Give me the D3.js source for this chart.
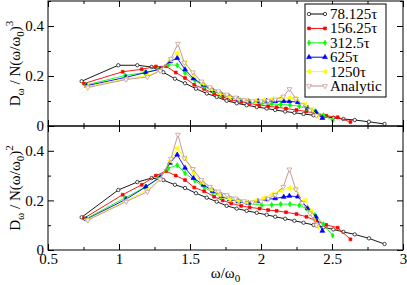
<!DOCTYPE html>
<html>
<head>
<meta charset="utf-8">
<script src="https://cdn.jsdelivr.net/npm/d3@7"></script>
<style>
body { margin: 0; background: #fff; }
svg { display: block; }
svg text { font-family: "Liberation Serif", "Times New Roman", serif; }
</style>
</head>
<body>
<script>
"use strict"

var labels = ["78.125τ", "156.25τ", "312.5τ", "625τ", "1250τ", "Analytic"];
var colors = ["#000000", "#ff0000", "#00ff00", "#0000ff", "#ffff00", "#bc8f8f"];

// omega / omega_0 for each run
var xBlack = [0.737, 0.995, 1.129, 1.23, 1.312, 1.394, 1.465, 1.542, 1.618, 1.688, 1.758, 1.829, 1.899, 1.97, 2.04, 2.10, 2.17, 2.235, 2.30, 2.37, 2.44, 2.51, 2.58, 2.66, 2.76, 2.87];
var xRed = [0.754, 1.026, 1.16, 1.26, 1.331, 1.40, 1.465, 1.53, 1.60, 1.67, 1.73, 1.79, 1.86, 1.92, 1.99, 2.05, 2.11, 2.176, 2.25, 2.32, 2.39, 2.46, 2.54, 2.63];
var xGreen = [0.768, 1.042, 1.183, 1.277, 1.347, 1.41, 1.465, 1.535, 1.60, 1.66, 1.72, 1.79, 1.85, 1.92, 2.005, 2.075, 2.139, 2.204, 2.27, 2.32, 2.38, 2.44, 2.505];
var xBlue = [0.772, 1.05, 1.19, 1.29, 1.359, 1.41, 1.465, 1.524, 1.594, 1.66, 1.72, 1.78, 1.84, 1.91, 1.98, 2.04, 2.10, 2.16, 2.20, 2.26, 2.33, 2.387, 2.432];
var xYellow = [0.775, 1.05, 1.20, 1.29, 1.36, 1.41, 1.465, 1.525, 1.59, 1.65, 1.71, 1.78, 1.84, 1.90, 1.96, 2.02, 2.08, 2.14, 2.20, 2.24, 2.31, 2.357, 2.40];
var xAnalytic = [0.78, 1.05, 1.20, 1.29, 1.366, 1.415, 1.46, 1.52, 1.58, 1.64, 1.70, 1.76, 1.82, 1.88, 1.94, 2.00, 2.05, 2.10, 2.157, 2.20, 2.245, 2.29, 2.345, 2.39];

// top panel: D / N(w/w0)^3
var topBlack = [0.179, 0.243, 0.243, 0.236, 0.215, 0.189, 0.171, 0.149, 0.130, 0.116, 0.101, 0.091, 0.083, 0.076, 0.070, 0.064, 0.058, 0.053, 0.048, 0.043, 0.038, 0.033, 0.028, 0.024, 0.017, 0.008];
var topRed = [0.170, 0.217, 0.227, 0.238, 0.239, 0.214, 0.192, 0.165, 0.148, 0.129, 0.116, 0.105, 0.096, 0.090, 0.084, 0.079, 0.075, 0.070, 0.064, 0.058, 0.049, 0.041, 0.035, 0.016];
var topGreen = [0.164, 0.202, 0.214, 0.227, 0.245, 0.243, 0.212, 0.182, 0.158, 0.140, 0.124, 0.113, 0.105, 0.097, 0.090, 0.088, 0.086, 0.084, 0.079, 0.072, 0.059, 0.043, 0.023];
var topBlue = [0.161, 0.195, 0.214, 0.227, 0.258, 0.272, 0.226, 0.190, 0.165, 0.143, 0.127, 0.115, 0.107, 0.099, 0.099, 0.100, 0.099, 0.099, 0.099, 0.095, 0.072, 0.056, 0.032];
var topYellow = [0.157, 0.189, 0.202, 0.222, 0.265, 0.291, 0.253, 0.203, 0.171, 0.148, 0.130, 0.115, 0.108, 0.102, 0.101, 0.104, 0.108, 0.112, 0.113, 0.110, 0.087, 0.067, 0.039];
var topAnalytic = [0.154, 0.186, 0.196, 0.221, 0.269, 0.329, 0.253, 0.215, 0.178, 0.155, 0.139, 0.126, 0.114, 0.105, 0.099, 0.098, 0.101, 0.106, 0.118, 0.148, 0.109, 0.083, 0.063, 0.042];

// bottom panel: D / N(w/w0)^2
var botBlack = [0.132, 0.242, 0.274, 0.290, 0.282, 0.263, 0.250, 0.229, 0.211, 0.195, 0.178, 0.167, 0.158, 0.150, 0.142, 0.134, 0.126, 0.118, 0.110, 0.101, 0.092, 0.083, 0.073, 0.063, 0.047, 0.024];
var botRed = [0.128, 0.223, 0.263, 0.300, 0.318, 0.300, 0.282, 0.252, 0.237, 0.215, 0.200, 0.188, 0.178, 0.172, 0.167, 0.161, 0.158, 0.152, 0.145, 0.134, 0.118, 0.101, 0.090, 0.043];
var botGreen = [0.126, 0.210, 0.253, 0.290, 0.330, 0.342, 0.310, 0.279, 0.253, 0.232, 0.214, 0.202, 0.195, 0.187, 0.181, 0.182, 0.185, 0.185, 0.180, 0.168, 0.141, 0.104, 0.058];
var botBlue = [0.124, 0.205, 0.255, 0.293, 0.351, 0.384, 0.331, 0.290, 0.263, 0.238, 0.218, 0.204, 0.196, 0.190, 0.196, 0.204, 0.208, 0.214, 0.218, 0.215, 0.168, 0.134, 0.077];
var botYellow = [0.122, 0.198, 0.242, 0.287, 0.360, 0.410, 0.370, 0.310, 0.272, 0.245, 0.222, 0.205, 0.198, 0.193, 0.198, 0.210, 0.225, 0.240, 0.249, 0.246, 0.200, 0.157, 0.094];
var botAnalytic = [0.120, 0.195, 0.235, 0.285, 0.368, 0.465, 0.370, 0.327, 0.282, 0.255, 0.236, 0.222, 0.208, 0.197, 0.192, 0.196, 0.207, 0.222, 0.255, 0.325, 0.245, 0.190, 0.148, 0.100];

var xTicks = [0.5, 1, 1.5, 2, 2.5, 3];
var xMinor = [0.75, 1.25, 1.75, 2.25, 2.75];
var yTicks = [0, 0.2, 0.4];
var yMinor = [0.1, 0.3, 0.5];

var xs = [xBlack, xRed, xGreen, xBlue, xYellow, xAnalytic];
var tops = [topBlack, topRed, topGreen, topBlue, topYellow, topAnalytic];
var bots = [botBlack, botRed, botGreen, botBlue, botYellow, botAnalytic];

// symbol: type, rotation, open?
var symbols = [
    {type: d3.symbolCircle, size: 9, rot: 0, open: true},
    {type: d3.symbolSquare, size: 8, rot: 0, open: false},
    {type: d3.symbolDiamond, size: 8, rot: 0, open: false},
    {type: d3.symbolTriangle, size: 10, rot: 0, open: false},
    {type: d3.symbolTriangle, size: 10, rot: -90, open: false},
    {type: d3.symbolTriangle, size: 10, rot: 180, open: true}
];

var W = 407, H = 285;
var left = 48, right = 403;
var font = "Liberation Serif, Times New Roman, serif";

var svg = d3.select("body").append("svg")
    .attr("width", W)
    .attr("height", H);

var x = d3.scaleLinear().domain([0.5, 3]).range([left, right]);

var panels = [
    {y0: 1, y1: 126, data: tops, power: "3"},
    {y0: 126, y1: 250, data: bots, power: "2"}
];

function drawMarker(g, s, color, px, py) {
    g.append("path")
        .attr("d", d3.symbol().type(s.type).size(s.size)())
        .attr("transform", "translate(" + px + "," + py + ") rotate(" + s.rot + ")")
        .attr("fill", s.open ? "#fff" : color)
        .attr("stroke", color)
        .attr("stroke-width", 0.7);
}

panels.forEach(function(p, pi) {
    var y = d3.scaleLinear().domain([0, 0.5]).range([p.y1, p.y0]);
    var g = svg.append("g");

    // series
    for (var k = 0; k < xs.length; k++) {
        var pts = xs[k].map(function(v, i) { return [v, p.data[k][i]]; });
        g.append("path")
            .datum(pts)
            .attr("fill", "none")
            .attr("stroke", colors[k])
            .attr("stroke-width", 0.9)
            .attr("d", d3.line().x(function(d) { return x(d[0]); }).y(function(d) { return y(d[1]); }));
        pts.forEach(function(d) {
            drawMarker(g, symbols[k], colors[k], x(d[0]), y(d[1]));
        });
    }

    // ticks on all four sides, pointing inward
    var showX = pi === 1;
    g.append("g").attr("transform", "translate(0," + p.y1 + ")")
        .call(d3.axisBottom(x).tickValues(xTicks).tickSize(-6).tickPadding(3)
            .tickFormat(showX ? d3.format("") : function() { return ""; }));
    g.append("g").attr("transform", "translate(0," + p.y1 + ")")
        .call(d3.axisBottom(x).tickValues(xMinor).tickSize(-3).tickFormat(""));
    g.append("g").attr("transform", "translate(0," + p.y0 + ")")
        .call(d3.axisTop(x).tickValues(xTicks).tickSize(-6).tickFormat(""));
    g.append("g").attr("transform", "translate(0," + p.y0 + ")")
        .call(d3.axisTop(x).tickValues(xMinor).tickSize(-3).tickFormat(""));
    g.append("g").attr("transform", "translate(" + left + ",0)")
        .call(d3.axisLeft(y).tickValues(yTicks).tickSize(-6).tickPadding(4).tickFormat(d3.format("")));
    g.append("g").attr("transform", "translate(" + left + ",0)")
        .call(d3.axisLeft(y).tickValues(yMinor).tickSize(-3).tickFormat(""));
    g.append("g").attr("transform", "translate(" + right + ",0)")
        .call(d3.axisRight(y).tickValues(yTicks).tickSize(-6).tickFormat(""));
    g.append("g").attr("transform", "translate(" + right + ",0)")
        .call(d3.axisRight(y).tickValues(yMinor).tickSize(-3).tickFormat(""));

    g.selectAll(".domain").remove();
    g.selectAll(".tick text")
        .attr("font-size", 15)
        .attr("font-family", font)
        .attr("fill", "#000");

    g.append("rect")
        .attr("x", left)
        .attr("y", p.y0)
        .attr("width", right - left)
        .attr("height", p.y1 - p.y0)
        .attr("fill", "none")
        .attr("stroke", "#000");

    // y axis title: D_w / N(w/w_0)^n
    var cy = (p.y0 + p.y1) / 2;
    var t = svg.append("text")
        .attr("transform", "translate(20," + cy + ") rotate(-90)")
        .attr("text-anchor", "middle")
        .attr("font-family", font)
        .attr("font-size", 15);
    t.append("tspan").text("D");
    t.append("tspan").attr("font-size", 11).attr("dy", 4).text("ω");
    t.append("tspan").attr("dy", -4).text(" / N(ω/ω");
    t.append("tspan").attr("font-size", 11).attr("dy", 4).text("0");
    t.append("tspan").attr("dy", -4).text(")");
    t.append("tspan").attr("font-size", 11).attr("dy", -7).text(p.power);
});

// x axis title
var xt = svg.append("text")
    .attr("x", (left + right) / 2)
    .attr("y", 278)
    .attr("text-anchor", "middle")
    .attr("font-family", font)
    .attr("font-size", 15);
xt.append("tspan").text("ω/ω");
xt.append("tspan").attr("font-size", 11).attr("dy", 4).text("0");

// legend
var lg = svg.append("g");
lg.append("rect")
    .attr("x", 305)
    .attr("y", 4)
    .attr("width", 81)
    .attr("height", 93)
    .attr("fill", "#fff")
    .attr("stroke", "#000");

labels.forEach(function(name, k) {
    var ly = 14 + k * 14.4;
    lg.append("line")
        .attr("x1", 309).attr("x2", 325)
        .attr("y1", ly).attr("y2", ly)
        .attr("stroke", colors[k]);
    drawMarker(lg, symbols[k], colors[k], 309, ly);
    drawMarker(lg, symbols[k], colors[k], 325, ly);
    lg.append("text")
        .attr("x", 330)
        .attr("y", ly + 5)
        .attr("font-family", font)
        .attr("font-size", 15)
        .text(name);
});
</script>
</body>
</html>
